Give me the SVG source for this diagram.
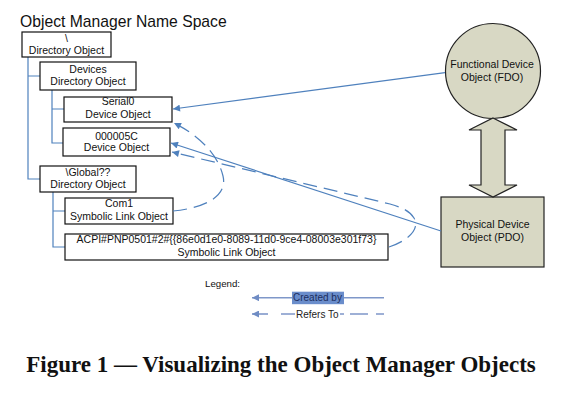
<svg xmlns="http://www.w3.org/2000/svg" width="562" height="403" viewBox="0 0 562 403">
<style>
text{font-family:"Liberation Sans",Arial,sans-serif;fill:#111}
.bx{fill:#fff;stroke:#111;stroke-width:1.2}
.t{font-size:10.5px;text-anchor:middle}
.tree{fill:none;stroke:#4F81BD;stroke-width:1.2}
.con{fill:none;stroke:#4F81BD;stroke-width:1.2}
.dash{stroke-dasharray:14 7}
.hw{fill:#D8D8C4;stroke:#222;stroke-width:1.2}
.lg{stroke:#7F97C9;stroke-width:1.6;fill:none}
</style>
<defs>
<marker id="arr" viewBox="0 0 10 10" refX="10" refY="5" markerWidth="8" markerHeight="7" markerUnits="userSpaceOnUse" orient="auto"><path d="M0,0 L10,5 L0,10 z" fill="#4F81BD"/></marker>
<marker id="arrL" viewBox="0 0 10 10" refX="10" refY="5" markerWidth="8" markerHeight="7" markerUnits="userSpaceOnUse" orient="auto"><path d="M0,0 L10,5 L0,10 z" fill="#6F8CC4"/></marker>
</defs>
<rect width="562" height="403" fill="#fff"/>
<text x="20" y="26.5" style="font-size:15.7px">Object Manager Name Space</text>

<g id="tree-lines">
<path class="tree" d="M28,57 V179 H40 M28,76 H40"/>
<path class="tree" d="M52,90 V143 H63 M52,109 H64"/>
<path class="tree" d="M53,192 V247 H65 M53,211 H65"/>
</g>

<g id="root-dir">
<rect class="bx" x="22" y="32" width="89" height="25"/>
<text class="t" x="66.5" y="42">\</text>
<text class="t" x="66.5" y="54">Directory Object</text>
</g>
<g id="devices-dir">
<rect class="bx" x="40" y="62" width="96" height="28"/>
<text class="t" x="88" y="72.7">Devices</text>
<text class="t" x="88" y="85">Directory Object</text>
</g>
<g id="serial0">
<rect class="bx" x="64" y="97" width="108" height="25"/>
<text class="t" x="118" y="104.5">Serial0</text>
<text class="t" x="118" y="117.5">Device Object</text>
</g>
<g id="dev000005C">
<rect class="bx" x="63" y="128" width="107" height="28"/>
<text class="t" x="116.5" y="139.5">000005C</text>
<text class="t" x="116.5" y="151">Device Object</text>
</g>
<g id="global-dir">
<rect class="bx" x="40" y="166" width="96" height="26"/>
<text class="t" x="88" y="176">\Global??</text>
<text class="t" x="88" y="187.7">Directory Object</text>
</g>
<g id="com1">
<rect class="bx" x="65" y="198" width="108" height="26"/>
<text class="t" x="119" y="207.3">Com1</text>
<text class="t" x="119" y="220">Symbolic Link Object</text>
</g>
<g id="acpi">
<rect class="bx" x="65" y="234" width="323" height="26"/>
<text class="t" x="226.5" y="243.3">ACPI#PNP0501#2#{{86e0d1e0-8089-11d0-9ce4-08003e301f73}</text>
<text class="t" x="226.5" y="255.7">Symbolic Link Object</text>
</g>

<g id="fdo">
<circle class="hw" cx="493" cy="71" r="47.5"/>
<text class="t" x="492" y="68">Functional Device</text>
<text class="t" x="492" y="81">Object (FDO)</text>
</g>
<g id="pdo">
<rect class="hw" x="441" y="197" width="103" height="70"/>
<text class="t" x="492.5" y="228">Physical Device</text>
<text class="t" x="492.5" y="241">Object (PDO)</text>
</g>

<g id="connectors">
<polygon class="hw" points="493,118 517,130 505,130 505,185 517,185 493,197 469,185 481,185 481,130 469,130"/>
<path class="con" d="M445,72.7 L173,109" marker-end="url(#arr)"/>
<path class="con" d="M441,231 L171,143" marker-end="url(#arr)"/>
<path class="con dash" d="M173,211 C205,208 228,196 223,176 C218,155 200,136 174,123" marker-end="url(#arr)"/>
<path class="con dash" d="M389,247 C410,240 420,228 414,218 C409,210 400,207 390,204 L172,152" marker-end="url(#arr)"/>
</g>

<g id="legend">
<text x="205" y="287.3" style="font-size:9.7px">Legend:</text>
<path class="lg" d="M384,297.7 L252,297.7" marker-end="url(#arrL)"/>
<rect x="292" y="291.7" width="52" height="12.5" fill="#6A8DCB"/>
<text x="293" y="301" style="font-size:10px;fill:#1C2E5E">Created by</text>
<path class="lg" d="M268,314 L252,314" marker-end="url(#arrL)"/>
<path class="lg" d="M281,314 H295 M340,314 H344 M350,314 H368 M376,314 H384"/>
<text x="296" y="317.5" style="font-size:10px;fill:#222">Refers To</text>
</g>

<text x="281" y="372" style="font-family:'Liberation Serif','Times New Roman',serif;font-weight:bold;font-size:23px;text-anchor:middle">Figure 1 — Visualizing the Object Manager Objects</text>
</svg>
